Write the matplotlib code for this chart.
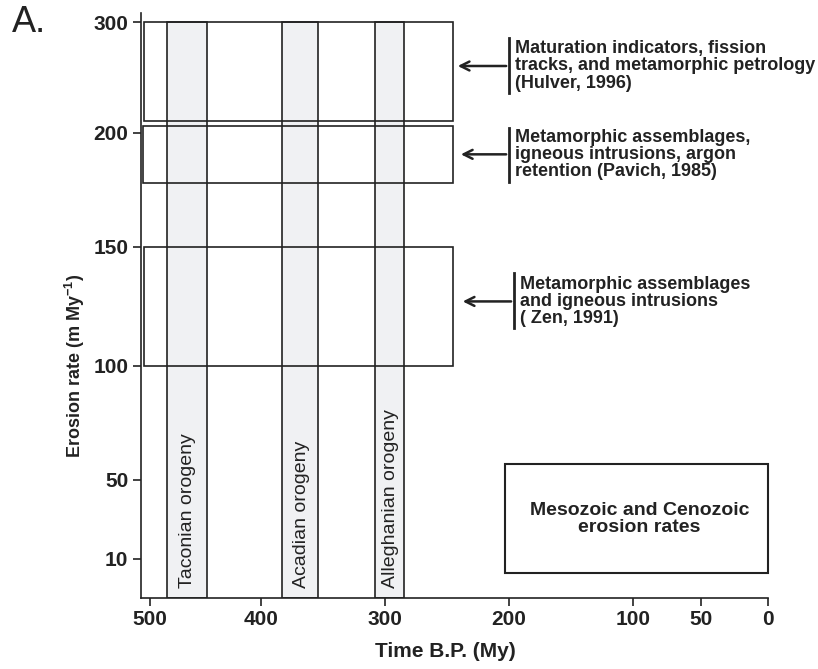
import numpy as np
from matplotlib import pyplot as plt
from matplotlib.patches import Rectangle

plt.rcParams['font.family'] = ['Liberation Sans', 'DejaVu Sans']
plt.rcParams['mathtext.fontset'] = 'custom'
plt.rcParams['mathtext.rm'] = 'Liberation Sans:bold'
plt.rcParams['mathtext.bf'] = 'Liberation Sans:bold'

# orogenies (My before present)
orogeny_names = ["Taconian orogeny", "Acadian orogeny", "Alleghanian orogeny"]
orogeny_old = [485, 383, 308]
orogeny_young = [449, 354, 285]
orogeny_top = 300

# erosion rate estimates from the literature
study_labels = [
    "Maturation indicators, fission\ntracks, and metamorphic petrology\n(Hulver, 1996)",
    "Metamorphic assemblages,\nigneous intrusions, argon\nretention (Pavich, 1985)",
    "Metamorphic assemblages\nand igneous intrusions\n( Zen, 1991)",
]
study_old = [505, 506, 505]
study_young = [245, 245, 245]
study_rate_low = [211, 178, 100]
study_rate_high = [300, 206, 150]

meso_label = "Mesozoic and Cenozoic\nerosion rates"
meso_old, meso_young = 203, 0
meso_low, meso_high = 6.3, 57

x_ticks = [500, 400, 300, 200, 100, 50, 0]
y_ticks = [10, 50, 100, 150, 200, 300]

# the original axes are not linear, so use piecewise scales
x_break_vals = [0, 50, 100, 200, 300, 400, 500, 600]
x_break_pos = [0, 66.7, 135, 258.7, 382.7, 506.7, 617.7, 728.7]
y_break_vals = [0, 10, 50, 100, 150, 200, 300, 400]
y_break_pos = [0, 39, 117.7, 232, 351, 465, 575.4, 685.8]


def fwd_x(v):
    return np.interp(v, x_break_vals, x_break_pos)


def inv_x(p):
    return np.interp(p, x_break_pos, x_break_vals)


def fwd_y(v):
    return np.interp(v, y_break_vals, y_break_pos)


def inv_y(p):
    return np.interp(p, y_break_pos, y_break_vals)


ink = '#222222'
W, H = 818, 669
fig = plt.figure(figsize=(W / 100, H / 100), dpi=100)
ax = fig.add_axes([141 / W, 1 - 597.7 / H, (767.7 - 141) / W, (597.7 - 13) / H])
ax.set_xscale('function', functions=(fwd_x, inv_x))
ax.set_yscale('function', functions=(fwd_y, inv_y))
ax.set_xlim(508, 0)
ax.set_ylim(0, 308.4)

for name, t0, t1 in zip(orogeny_names, orogeny_old, orogeny_young):
    ax.add_patch(Rectangle((t1, 0), t0 - t1, orogeny_top, facecolor='#f0f1f3',
                           edgecolor=ink, lw=1.2, zorder=1))
    mid = inv_x((fwd_x(t0) + fwd_x(t1)) / 2) - 1
    ax.text(mid, 2.5, name, rotation=90, ha='center', va='bottom',
            fontsize=14, color=ink, zorder=3)

for t0, t1, lo, hi in zip(study_old, study_young, study_rate_low, study_rate_high):
    ax.add_patch(Rectangle((t1, lo), t0 - t1, hi - lo, facecolor='none',
                           edgecolor=ink, lw=1.2, zorder=2))

ax.add_patch(Rectangle((meso_young, meso_low), meso_old - meso_young,
                       meso_high - meso_low, facecolor='none', edgecolor=ink,
                       lw=1.5, clip_on=False))
ax.text(95, 30, meso_label, ha='center', va='center', fontsize=14,
        fontweight='bold', color=ink, linespacing=1.0)

# annotation arrows pointing at the boxes
ann_bar_x = [200, 200, 196]
ann_bar_lo = [236, 178.5, 116]
ann_bar_hi = [286, 204.5, 139]
ann_y = [260.4, 190.5, 127]
ann_tip = [243.5, 241, 239.5]
for label, bx, blo, bhi, ay, tip in zip(study_labels, ann_bar_x, ann_bar_lo,
                                        ann_bar_hi, ann_y, ann_tip):
    ax.plot([bx, bx], [blo, bhi], color=ink, lw=2, clip_on=False)
    ax.annotate('', xy=(tip, ay), xytext=(bx, ay),
                arrowprops=dict(arrowstyle='->', color=ink, lw=1.8,
                                mutation_scale=16), annotation_clip=False)
    ax.text(inv_x(fwd_x(bx) - 6), ay, label, ha='left', va='center',
            fontsize=13, fontweight='bold', color=ink, linespacing=1.02,
            clip_on=False)

ax.spines['top'].set_visible(False)
ax.spines['right'].set_visible(False)
for s in ['left', 'bottom']:
    ax.spines[s].set_color(ink)
    ax.spines[s].set_linewidth(1.2)

ax.set_xticks(x_ticks)
ax.set_xticklabels([str(t) for t in x_ticks])
ax.set_yticks(y_ticks)
ax.set_yticklabels([str(t) for t in y_ticks])
ax.minorticks_off()
ax.tick_params(length=6, width=1.2, color=ink, labelsize=15, labelcolor=ink, pad=3)
for lab in ax.get_xticklabels() + ax.get_yticklabels():
    lab.set_fontweight('bold')

fig.text(445 / W, 1 - 651.7 / H, "Time B.P. (My)", ha='center', va='center',
         fontsize=15, fontweight='bold', color=ink)
fig.text(74.5 / W, 1 - 366 / H, r"Erosion rate (m My$^{\mathbf{-1}}$)", rotation=90,
         ha='center', va='center', fontsize=13, fontweight='bold', color=ink)
fig.text(29 / W, 1 - 22 / H, "A.", ha='center', va='center', fontsize=26, color=ink)

fig.savefig('out.png', dpi=100)
